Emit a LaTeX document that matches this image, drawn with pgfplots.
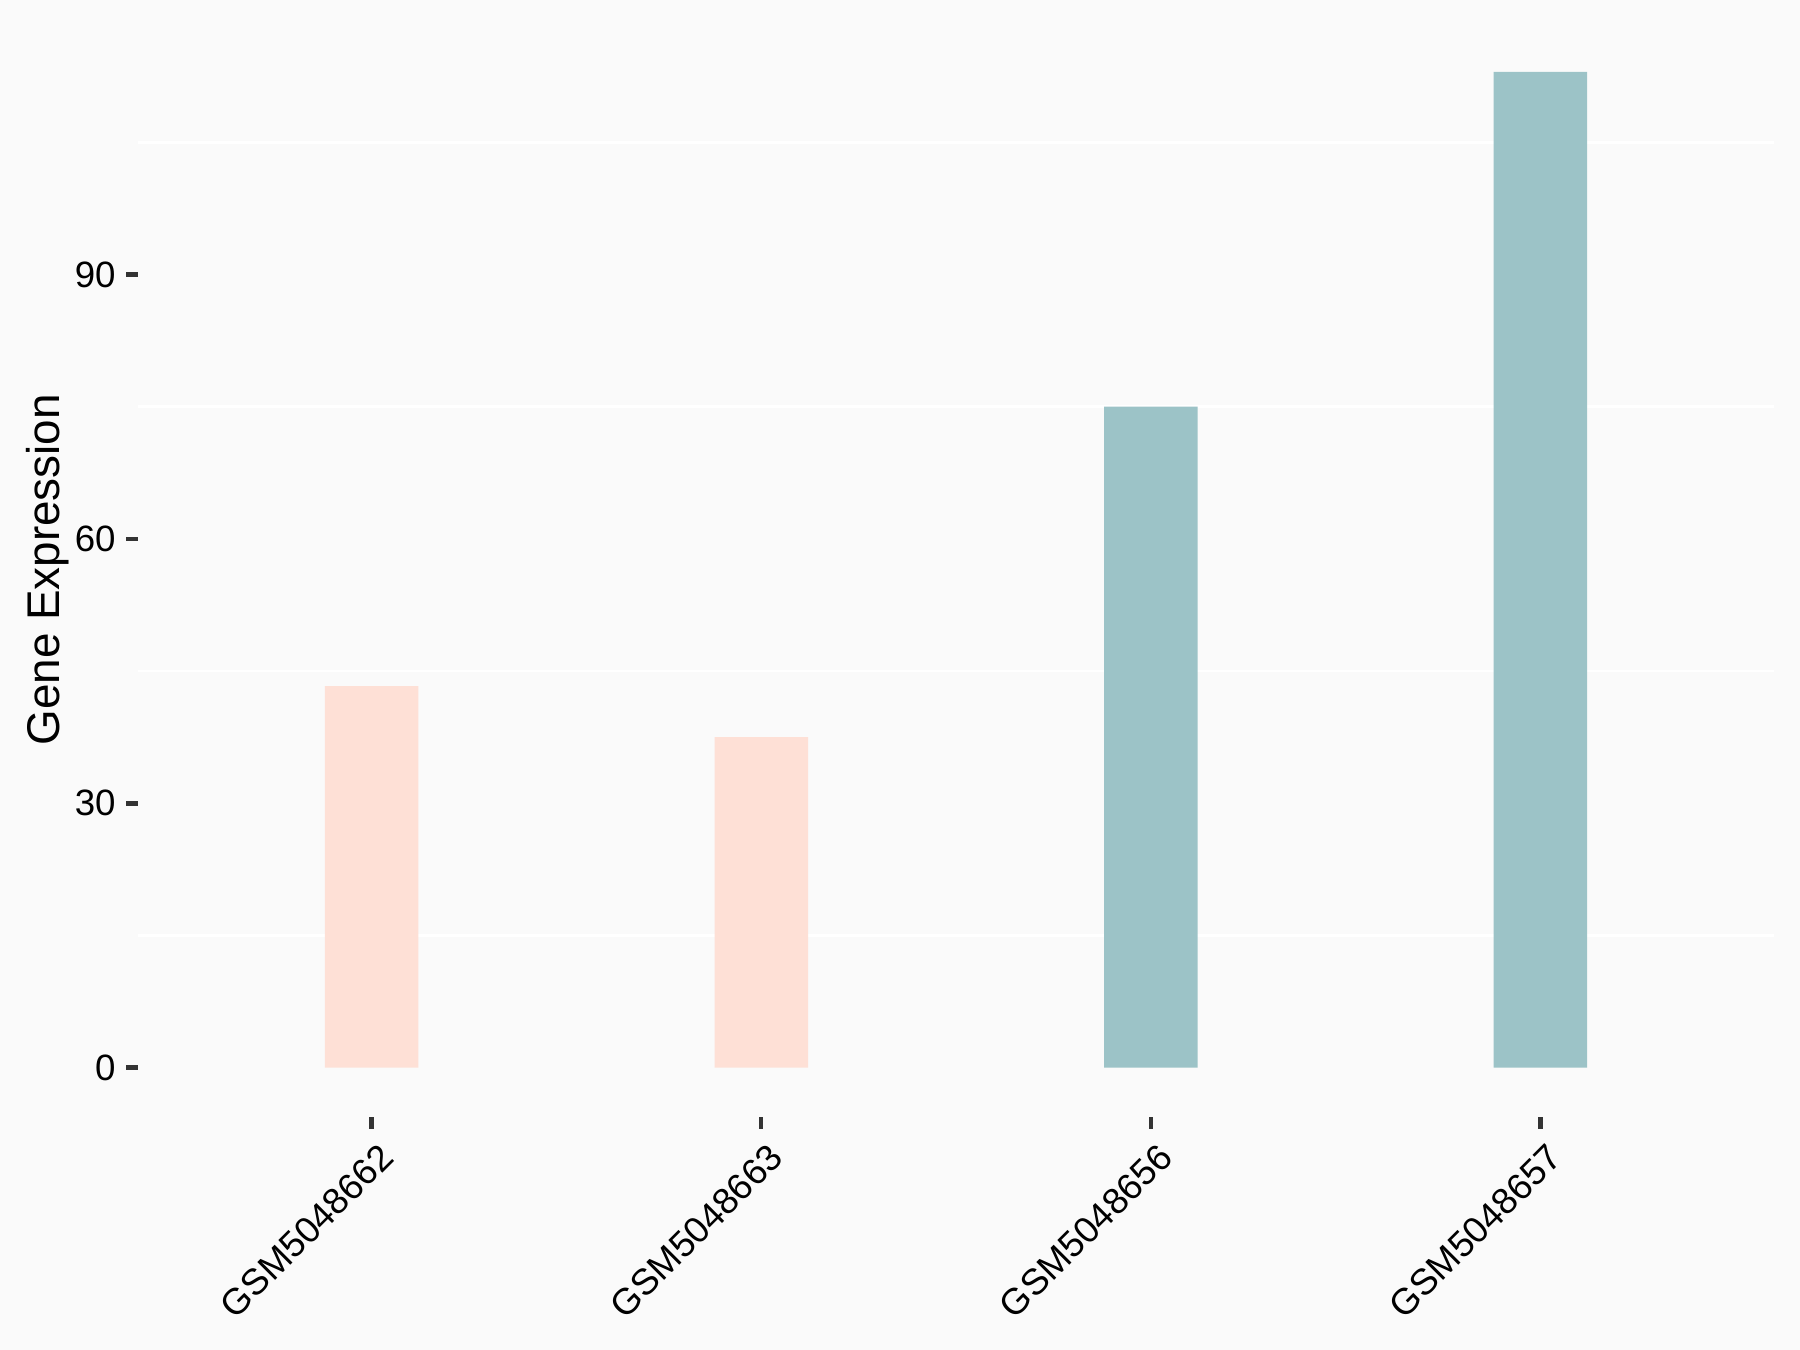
\documentclass[border=0pt]{standalone}
\usepackage{pgfplots}
\pgfplotsset{compat=1.18}
\usepackage{fontspec}
\setmainfont{Liberation Sans}
\definecolor{bg}{HTML}{FAFAFA}
\definecolor{pinkbar}{HTML}{FEE0D6}
\definecolor{tealbar}{HTML}{9CC3C7}
\definecolor{tickc}{HTML}{333333}
\begin{document}
\begin{tikzpicture}[x=1pt,y=1pt]
\fill[bg] (0,0) rectangle (432,324);
\begin{axis}[
  at={(33.1pt,55.8pt)}, anchor=south west,
  scale only axis, width=392.7pt, height=262.9pt,
  xmin=-0.6, xmax=3.6, ymin=-5.65, ymax=118.65,
  axis line style={draw=none},
  xtick={0,1,2,3},
  xticklabels={GSM5048662,GSM5048663,GSM5048656,GSM5048657},
  ytick={0,30,60,90},
  minor ytick={15,45,75,105},
  yminorgrids=true,
  minor grid style={white, line width=0.6pt},
  minor tick length=0pt,
  major tick length=2.75pt,
  tick align=outside,
  xtick pos=lower, ytick pos=lower,
  tick style={color=tickc, line width=1.07pt},
  /pgf/number format/assume math mode=true,
  ticklabel style={font=\fontsize{8.8}{10}\selectfont, text=black},
  x tick label style={rotate=45, anchor=north east, inner sep=1pt, yshift=-2pt},
  y tick label style={anchor=east, inner sep=0pt, xshift=-2.4pt},
  ylabel={Gene Expression},
  ylabel style={at={(axis description cs:-0.069,0.5)}, anchor=north, inner sep=0pt, font=\fontsize{11}{13}\selectfont},
  ybar, bar width=0.24,
  clip=false,
]
\addplot[fill=pinkbar, draw=none, bar shift=0pt] coordinates {(0,43.3) (1,37.5)};
\addplot[fill=tealbar, draw=none, bar shift=0pt] coordinates {(2,75.0) (3,113.0)};
\end{axis}
\pgfresetboundingbox
\useasboundingbox (0,0) rectangle (432,324);
\end{tikzpicture}
\end{document}
